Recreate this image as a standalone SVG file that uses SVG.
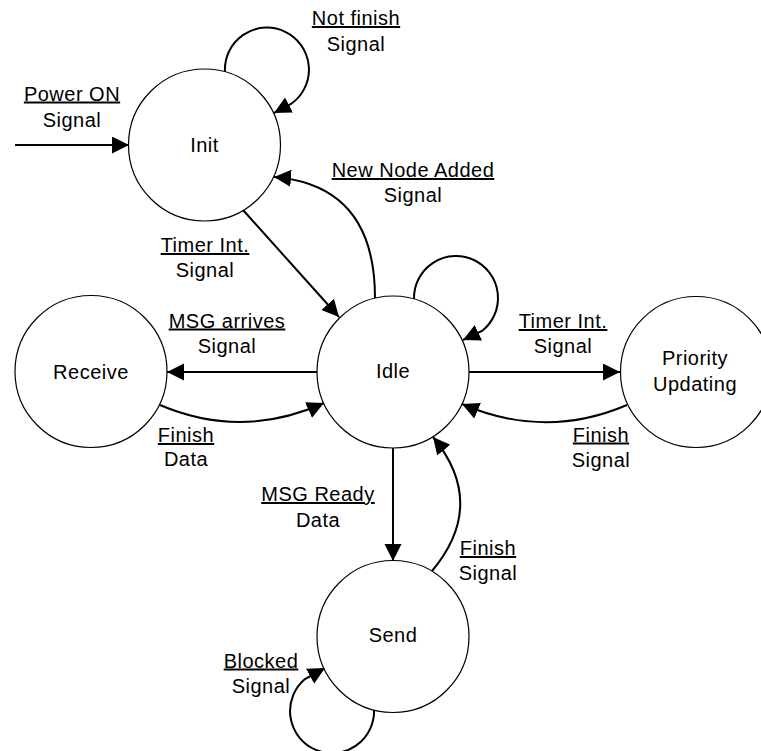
<svg xmlns="http://www.w3.org/2000/svg" width="761" height="751" viewBox="0 0 761 751">
  <style>
    .state { fill: #ffffff; stroke: #000000; stroke-width: 1.2; }
    .edge { fill: none; stroke: #000000; stroke-width: 2; marker-end: url(#arrow); }
    text { font-family: "Liberation Sans", Arial, sans-serif; font-size: 20px; letter-spacing: 0.5px; fill: #000000; text-anchor: middle; }
    .ul { text-decoration: underline; }
  </style>
  <defs>
    <marker id="arrow" markerUnits="userSpaceOnUse" markerWidth="18" markerHeight="18" refX="17" refY="8.5" orient="auto">
      <path d="M0,0 L17,8.5 L0,17 Z" fill="#000000"/>
    </marker>
  </defs>
  <rect x="0" y="0" width="761" height="751" fill="#ffffff"/>

  <!-- transitions -->
  <g id="connectors">
    <path class="edge" d="M15,145 L129,145"/>
    <path class="edge" d="M225,72 A42,42 0 1 1 291,104 L274,113"/>
    <path class="edge" d="M243,210 L339,317"/>
    <path class="edge" d="M375,298 Q375,185 274,177"/>
    <path class="edge" d="M414,299 A42,42 0 1 1 482,331 L463,340"/>
    <path class="edge" d="M317,372 L167,372"/>
    <path class="edge" d="M160,405 Q242,440 324,403"/>
    <path class="edge" d="M469,372 L620,372"/>
    <path class="edge" d="M627,405 Q545,440 462,404"/>
    <path class="edge" d="M393,448 L393,561"/>
    <path class="edge" d="M432,571 Q488,504 433,437"/>
    <path class="edge" d="M374,709 A42,42 0 1 1 305,679 L325,668"/>
  </g>

  <!-- states -->
  <g id="init">
    <circle class="state" cx="204.5" cy="145" r="76"/>
    <text x="204.5" y="152">Init</text>
  </g>
  <g id="idle">
    <circle class="state" cx="393" cy="372" r="76"/>
    <text x="393" y="378">Idle</text>
  </g>
  <g id="receive">
    <circle class="state" cx="91" cy="371.5" r="76"/>
    <text x="91" y="378.5">Receive</text>
  </g>
  <g id="priority-updating">
    <circle class="state" cx="696" cy="372" r="75.5"/>
    <text x="695" y="365">Priority</text>
    <text x="695" y="391">Updating</text>
  </g>
  <g id="send">
    <circle class="state" cx="393" cy="636.5" r="76"/>
    <text x="393" y="642">Send</text>
  </g>

  <!-- transition labels -->
  <g id="labels">
    <text class="ul" x="356" y="25">Not finish</text>
    <text x="356" y="51">Signal</text>
    <text class="ul" x="72" y="100.5">Power ON</text>
    <text x="72" y="126.5">Signal</text>
    <text class="ul" x="413" y="177">New Node Added</text>
    <text x="413" y="202">Signal</text>
    <text class="ul" x="205" y="252">Timer Int.</text>
    <text x="205" y="277">Signal</text>
    <text class="ul" x="227" y="327.5">MSG arrives</text>
    <text x="227" y="353">Signal</text>
    <text class="ul" x="563" y="328">Timer Int.</text>
    <text x="563" y="353">Signal</text>
    <text class="ul" x="186" y="442">Finish</text>
    <text x="186" y="466">Data</text>
    <text class="ul" x="601" y="441.5">Finish</text>
    <text x="601" y="466.5">Signal</text>
    <text class="ul" x="318" y="501">MSG Ready</text>
    <text x="318" y="526.5">Data</text>
    <text class="ul" x="488" y="555">Finish</text>
    <text x="488" y="580">Signal</text>
    <text class="ul" x="261" y="667.5">Blocked</text>
    <text x="261" y="693">Signal</text>
  </g>
</svg>
